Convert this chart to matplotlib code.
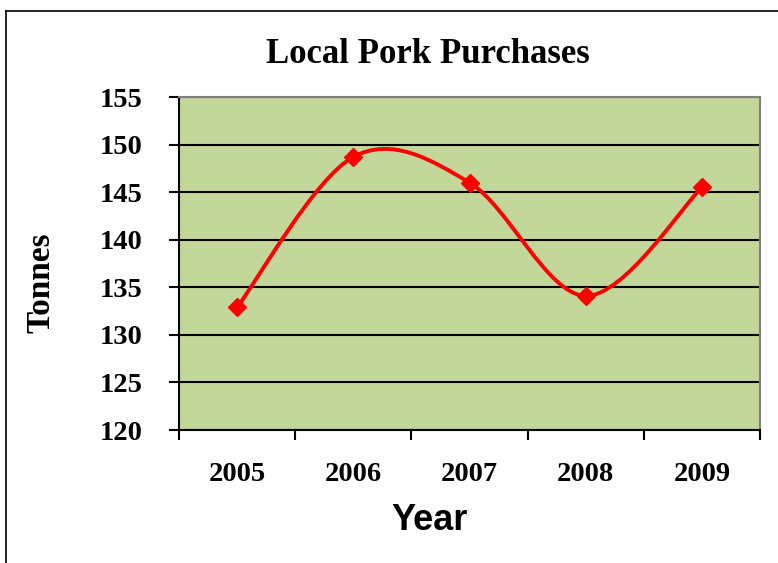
import numpy as np
import matplotlib.pyplot as plt
from matplotlib.path import Path
from matplotlib.patches import PathPatch
from matplotlib.lines import Line2D

# Data
years = ['2005', '2006', '2007', '2008', '2009']
tonnes = [132.9, 148.7, 146.0, 134.1, 145.5]

fig = plt.figure(figsize=(7.78, 5.63), dpi=100)
ax = fig.add_axes([0.2301, 0.2362, 0.7468, 0.5915])
ax.set_facecolor('#C4D79B')

x = np.arange(len(years))
y = np.array(tonnes)

# Smoothed line (Excel-like Catmull-Rom bezier segments)
xp = np.concatenate([[x[0]], x, [x[-1]]])
yp = np.concatenate([[y[0]], y, [y[-1]]])
verts = [(x[0], y[0])]
codes = [Path.MOVETO]
for i in range(1, len(xp) - 2):
    c1 = (xp[i] + (xp[i + 1] - xp[i - 1]) / 6, yp[i] + (yp[i + 1] - yp[i - 1]) / 6)
    c2 = (xp[i + 1] - (xp[i + 2] - xp[i]) / 6, yp[i + 1] - (yp[i + 2] - yp[i]) / 6)
    verts += [c1, c2, (xp[i + 1], yp[i + 1])]
    codes += [Path.CURVE4] * 3
ax.add_patch(PathPatch(Path(verts, codes), facecolor='none', edgecolor='#FF0000',
                       lw=2.8, zorder=3))
ax.plot(x, y, linestyle='none', marker='D', color='#FF0000', markersize=9.5, zorder=4)

ax.set_xlim(-0.5, 4.5)
ax.set_ylim(120, 155)
ax.set_yticks(np.arange(120, 156, 5))
ax.yaxis.grid(True, color='black', lw=1.5)
ax.set_axisbelow(True)

ax.set_xticks(np.arange(-0.5, 5, 1))
ax.set_xticklabels([])
ax.set_xticks(x, minor=True)
ax.set_xticklabels(years, minor=True)
ax.tick_params(axis='x', which='minor', length=0, pad=23)
ax.tick_params(axis='x', which='major', length=7, width=1.5, direction='out')
ax.tick_params(axis='y', length=7, width=1.5, direction='out', pad=19)

for lab in ax.get_xticklabels(minor=True) + ax.get_yticklabels():
    lab.set_fontfamily('Liberation Serif')
    lab.set_fontweight('bold')
    lab.set_fontsize(20.5)

for s in ['left', 'bottom']:
    ax.spines[s].set_color('black')
    ax.spines[s].set_linewidth(1.5)
for s in ['top', 'right']:
    ax.spines[s].set_color('#808080')
    ax.spines[s].set_linewidth(1.5)

fig.text(0.550, 0.888, 'Local Pork Purchases', ha='center', va='baseline',
         fontfamily='Liberation Serif', fontweight='bold', fontsize=25)
fig.text(0.0533, 0.498, 'Tonnes', ha='center', va='center', rotation=90,
         fontfamily='Liberation Serif', fontweight='bold', fontsize=24)
fig.text(0.552, 0.0755, 'Year', ha='center', va='center',
         fontfamily='Liberation Sans', fontweight='bold', fontsize=26)

# Chart border
fig.add_artist(Line2D([6 / 778, 6 / 778], [0, 1 - 11 / 563], color='black', lw=1.2))
fig.add_artist(Line2D([6 / 778, 1], [1 - 11 / 563, 1 - 11 / 563], color='black', lw=1.2))

fig.savefig('out.png', dpi=100)
